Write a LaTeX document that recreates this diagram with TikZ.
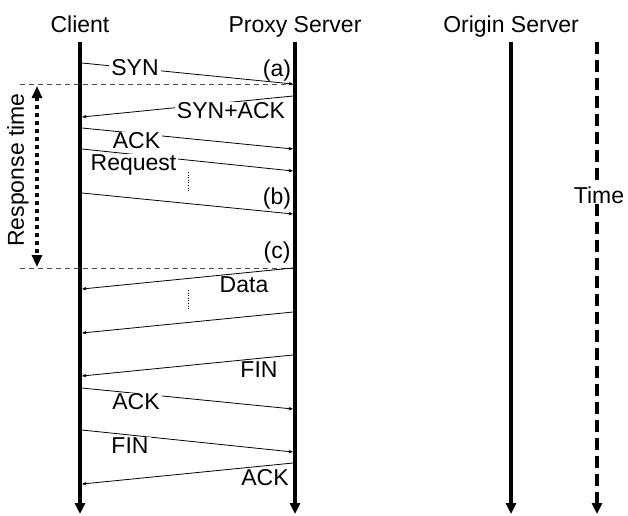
\documentclass[tikz,border=0pt]{standalone}
\usepackage{fontspec}
\setmainfont{Liberation Sans}
\usetikzlibrary{arrows.meta}
\begin{document}
\begin{tikzpicture}[x=1pt,y=-1pt,
  lifeline/.style={line width=4pt,-{Triangle[length=11pt,width=10pt]}},
  timeline/.style={line width=4pt,dash pattern=on 12pt off 6pt,-{Triangle[length=11pt,width=10pt]}},
  msg/.style={line width=0.8pt,-{Stealth[length=4.5pt,width=3.5pt]}},
  lbl/.style={font=\fontsize{23}{27}\selectfont,fill=white,inner xsep=2pt,inner ysep=0pt,anchor=base},
  head/.style={font=\fontsize{23}{27}\selectfont,anchor=base,inner sep=0pt},
  tagtxt/.style={font=\fontsize{23}{27}\selectfont,anchor=base,inner sep=0pt},
  guide/.style={line width=0.7pt,dash pattern=on 5pt off 4pt,black!70},
  dotv/.style={line width=0.6pt,dotted}]
\useasboundingbox (0,0) rectangle (628,515);
% headers
\node[head] (hc) at (80,32) {Client};
\node[head] (hp) at (295,32) {Proxy Server};
\node[head] (ho) at (511,32) {Origin Server};
% lifeline coordinates
\coordinate (ct) at (80,42); \coordinate (cb) at (80,514);
\coordinate (pt) at (295,42); \coordinate (pb) at (295,514);
\coordinate (ot) at (511,42); \coordinate (ob) at (511,514);
\coordinate (tt) at (597,42); \coordinate (tb) at (597,514);
\draw[lifeline] (ct) -- (cb);
\draw[lifeline] (pt) -- (pb);
\draw[lifeline] (ot) -- (ob);
\draw[timeline] (tt) -- (tb);
% guide lines
\coordinate (g1l) at (20,84.5); \coordinate (g1r) at (293,84.5);
\coordinate (g2l) at (20,268); \coordinate (g2r) at (293,268);
\draw[guide] (g1l) -- (g1r);
\draw[guide] (g2l) -- (g2r);
% response time arrow
\coordinate (rt) at (37,86); \coordinate (rb) at (37,267);
\draw[line width=4pt,dash pattern=on 4pt off 4pt,{Triangle[length=12pt,width=10pt]}-{Triangle[length=12pt,width=10pt]}] (rt) -- (rb);
\node[font=\fontsize{23}{27}\selectfont,rotate=90,inner sep=0pt] (resp) at (18,170) {Response time};
% message endpoints
\coordinate (c1) at (82,63);   \coordinate (p1) at (293,84);
\coordinate (p2) at (293,96);  \coordinate (c2) at (82,117);
\coordinate (c3) at (82,128);  \coordinate (p3) at (293,149);
\coordinate (c4) at (82,149);  \coordinate (p4) at (293,171);
\coordinate (c5) at (82,193);  \coordinate (p5) at (293,214);
\coordinate (p6) at (293,268); \coordinate (c6) at (82,289);
\coordinate (p7) at (293,312); \coordinate (c7) at (82,333);
\coordinate (p8) at (293,355); \coordinate (c8) at (82,376);
\coordinate (c9) at (82,388);  \coordinate (p9) at (293,409);
\coordinate (c10) at (82,430); \coordinate (p10) at (293,452);
\coordinate (p11) at (293,463);\coordinate (c11) at (82,484);
\draw[msg] (c1) -- (p1);
\draw[msg] (p2) -- (c2);
\draw[msg] (c3) -- (p3);
\draw[msg] (c4) -- (p4);
\draw[msg] (c5) -- (p5);
\draw[msg] (p6) -- (c6);
\draw[msg] (p7) -- (c7);
\draw[msg] (p8) -- (c8);
\draw[msg] (c9) -- (p9);
\draw[msg] (c10) -- (p10);
\draw[msg] (p11) -- (c11);
% dotted gaps
\coordinate (d1t) at (188,172); \coordinate (d1b) at (188,192);
\coordinate (d2t) at (188,290); \coordinate (d2b) at (188,310);
\draw[dotv] (d1t) -- (d1b);
\draw[dotv] (d2t) -- (d2b);
% labels
\node[lbl] (l1) at (135,75) {SYN};
\node[lbl] (l2) at (231,118) {SYN+ACK};
\node[lbl] (l3) at (136.5,148) {ACK};
\node[lbl] (l4) at (133.5,170) {Request};
\node[lbl] (l6) at (244,292) {Data};
\node[lbl] (l8) at (259,377) {FIN};
\node[lbl] (l9) at (136,409) {ACK};
\node[lbl] (l10) at (130,453) {FIN};
\node[lbl] (l11) at (265,485) {ACK};
\node[tagtxt] (ma) at (277,76) {(a)};
\node[tagtxt] (mb) at (277,204) {(b)};
\node[tagtxt] (mc) at (277,258) {(c)};
\node[lbl] (tl) at (599,203) {Time};
\end{tikzpicture}
\end{document}
